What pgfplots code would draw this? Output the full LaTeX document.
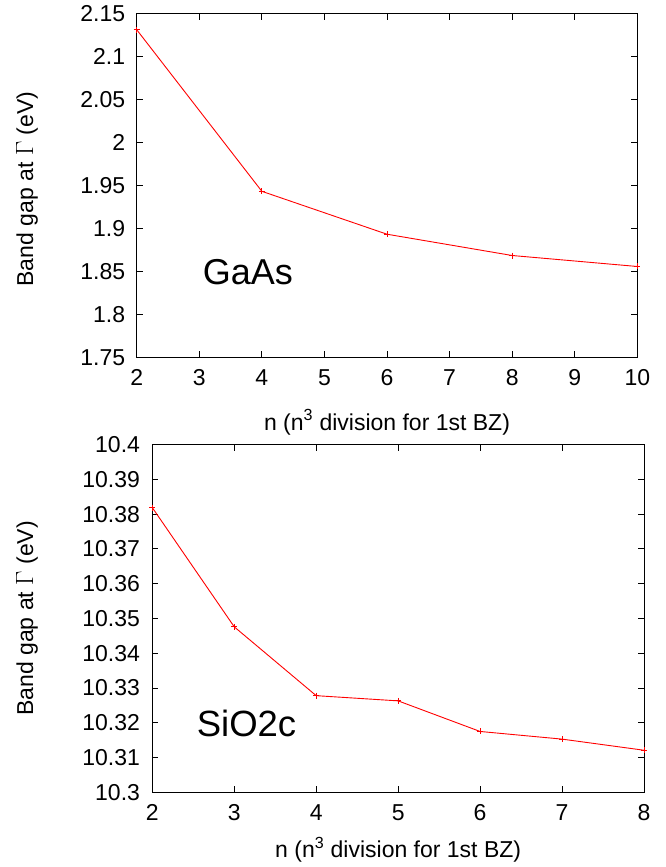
\documentclass[border=0pt]{standalone}
\usepackage{fontspec}
\setmainfont{Liberation Sans}
\usepackage{pgfplots}
\pgfplotsset{compat=1.18}

\pgfplotsset{
  gp/.style={
    scale only axis,
    anchor=south west,
    axis line style={line width=1pt},
    tick style={line width=1pt, black},
    major tick length=6pt,
    tick align=inside,
    tick label style={font=\fontsize{23}{26}\selectfont},
    label style={font=\fontsize{23}{26}\selectfont},
    /pgf/number format/assume math mode=true,
    /pgf/number format/fixed,
    /pgf/number format/precision=2,
    xticklabel style={yshift=-9pt},
    yticklabel style={xshift=-8pt},
    ylabel={Band gap at $\Gamma$ (eV)},
    xlabel={n (n\textsuperscript{3} division for 1st BZ)},
    ylabel style={anchor=center},
  },
  gpline/.style={red, line width=0.9pt, mark=+, mark size=3pt, mark options={line width=0.9pt}},
}

\begin{document}
\begin{tikzpicture}[x=1pt,y=1pt]
\useasboundingbox (0,0) rectangle (665,867);

% GaAs
\begin{axis}[gp,
  at={(136.7pt,509.7pt)},
  width=500.6pt, height=343.3pt,
  xmin=2, xmax=10, ymin=1.75, ymax=2.15,
  xtick={2,3,...,10},
  ytick={1.75,1.8,1.85,1.9,1.95,2,2.05,2.1,2.15},
  ylabel style={at={(axis description cs:-0.219,0.49)}},
  xlabel style={at={(axis description cs:0.5,-0.2118)}, anchor=base},
]
\addplot[gpline] coordinates {(2,2.1317)(4,1.9434)(6,1.8934)(8,1.8686)(10,1.8558)};
\node[anchor=base west, font=\fontsize{36}{40}\selectfont] at (axis cs:3.0,1.835) {GaAs};
\end{axis}

% SiO2c
\begin{axis}[gp,
  at={(152.3pt,74.7pt)},
  width=491.7pt, height=347.6pt,
  xmin=2, xmax=8, ymin=10.3, ymax=10.4,
  xtick={2,3,...,8},
  ytick={10.3,10.31,10.32,10.33,10.34,10.35,10.36,10.37,10.38,10.39,10.4},
  yticklabel style={xshift=-0.8pt},
  ylabel style={at={(axis description cs:-0.2548,0.5)}},
  xlabel style={at={(axis description cs:0.5,-0.189)}, anchor=base},
]
\addplot[gpline] coordinates {(2,10.3819)(3,10.3476)(4,10.3278)(5,10.3263)(6,10.3175)(7,10.3153)(8,10.3121)};
\node[anchor=base west, font=\fontsize{36.5}{40}\selectfont] at (axis cs:2.5,10.316) {SiO2c};
\end{axis}
\end{tikzpicture}
\end{document}
